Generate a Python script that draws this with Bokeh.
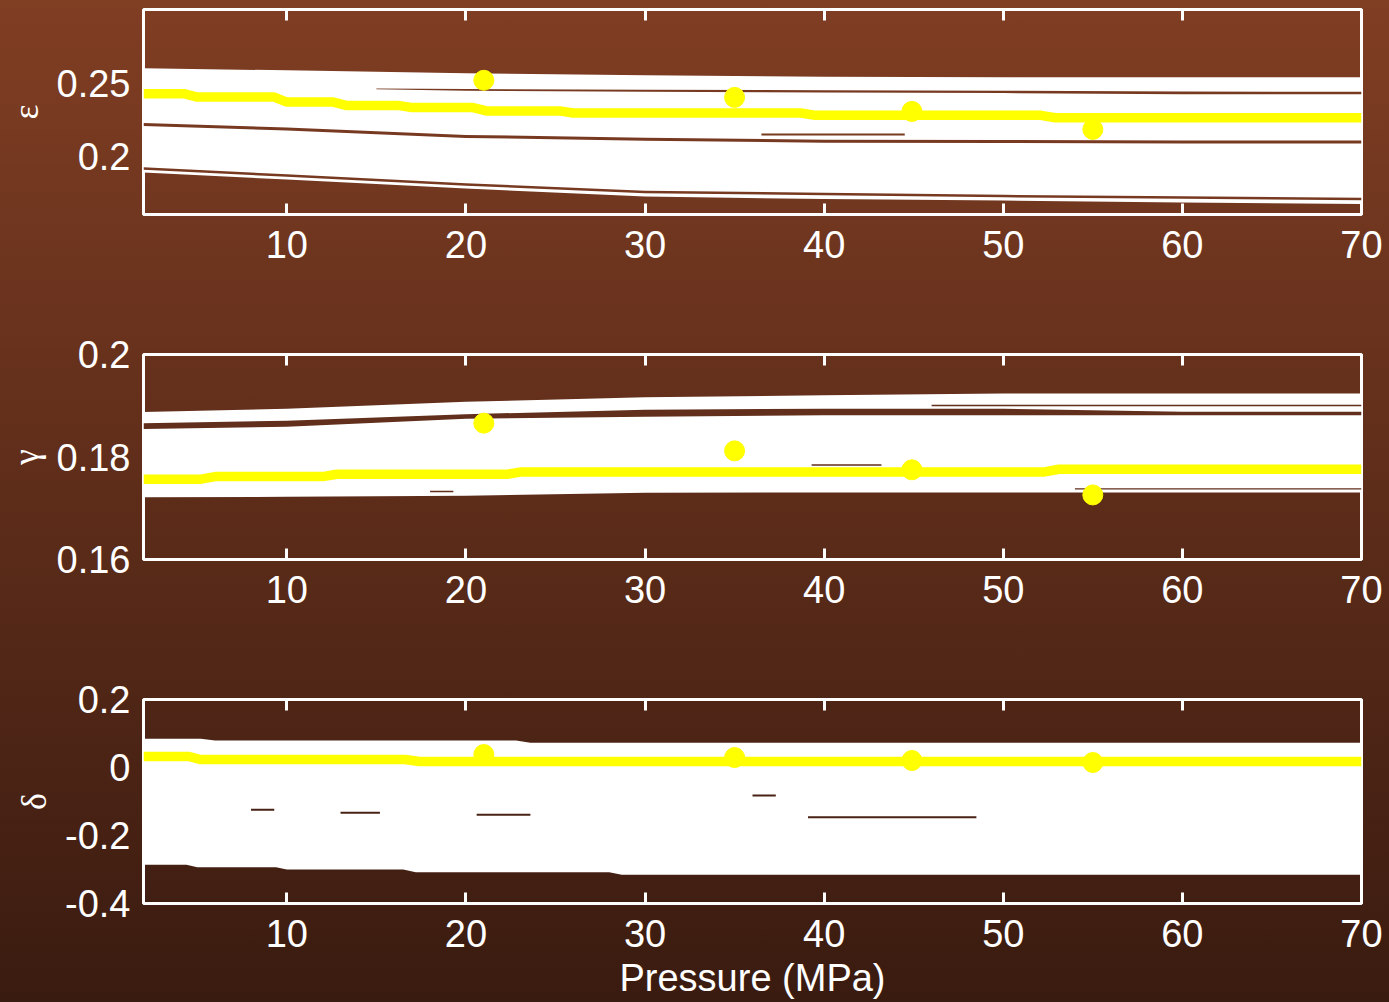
import numpy as np
from bokeh.plotting import figure
from bokeh.models import (LinearAxis, FixedTicker, Range1d, GlobalInlineStyleSheet,
                          CustomLabelingPolicy)
from bokeh.layouts import column
from bokeh.embed import file_html
from bokeh.resources import INLINE

# ---------------- data ----------------
x_ticks = [10, 20, 30, 40, 50, 60, 70]
grid_p = [2, 10, 20, 30, 40, 50, 60, 70]

# measured points (yellow dots)
meas_p = [21.0, 35.0, 44.9, 55.0]
eps_meas = [0.2521, 0.2404, 0.2308, 0.2185]
gam_meas = [0.1866, 0.1812, 0.1775, 0.1726]
del_meas = [0.0382, 0.0294, 0.0206, 0.0147]

# best-fit model (yellow line)
eps_fit_p = [2, 4.25, 5.0, 9.3, 10.0, 12.6, 13.3, 16.2, 17.0, 20.4, 21.2, 25.3, 26.0, 38.7, 39.5, 52.1, 52.9, 70]
eps_fit = [0.2429, 0.2429, 0.2406, 0.2406, 0.2372, 0.2372, 0.2349, 0.2349, 0.2334, 0.2334,
           0.2310, 0.2310, 0.2297, 0.2297, 0.2281, 0.2281, 0.2265, 0.2265]
gam_fit_p = [2, 5.2, 6.0, 12.0, 12.8, 22.3, 23.1, 52.3, 53.1, 70]
gam_fit = [0.17567, 0.17567, 0.17618, 0.17618, 0.17664, 0.17664, 0.17709, 0.17709, 0.17761, 0.17761]
del_fit_p = [2, 4.5, 5.2, 16.6, 17.4, 70]
del_fit = [0.0324, 0.0324, 0.0235, 0.0235, 0.0176, 0.0176]

# Monte-Carlo envelope (white)
eps_env_top = [0.2603, 0.2589, 0.2569, 0.2555, 0.2545, 0.2541, 0.2541, 0.2541]
eps_env_bot = [0.18904, 0.18424, 0.17808, 0.17259, 0.17088, 0.16985, 0.16848, 0.16746]
gam_env_top = [0.18880, 0.18942, 0.19078, 0.19165, 0.19204, 0.19237, 0.19237, 0.19237]
gam_env_bot = [0.17217, 0.17223, 0.17243, 0.17301, 0.17307, 0.17307, 0.17307, 0.17307]
del_env_top_p = [2, 5.2, 6.0, 22.8, 23.6, 70]
del_env_top = [0.08441, 0.08441, 0.07941, 0.07941, 0.07265, 0.07265]
del_env_bot_p = [2, 4.4, 5.0, 9.4, 10.0, 16.5, 17.2, 28.0, 28.7, 70]
del_env_bot = [-0.28618, -0.28618, -0.29324, -0.29324, -0.30000, -0.30000, -0.30794, -0.30794, -0.31529, -0.31529]

# gaps between realisations (p, top, bottom)
eps_gaps = [
    ([15, 20, 30, 40, 50, 60, 70],
     [0.24644, 0.24610, 0.24555, 0.24534, 0.24500, 0.24438, 0.24418],
     [0.24603, 0.24500, 0.24418, 0.24370, 0.24336, 0.24260, 0.24253]),
    (grid_p,
     [0.22294, 0.21972, 0.21472, 0.21287, 0.21150, 0.21130, 0.21096, 0.21096],
     [0.22089, 0.21767, 0.21267, 0.21082, 0.20945, 0.20924, 0.20890, 0.20890]),
    (grid_p,
     [0.19263, 0.18784, 0.18167, 0.17653, 0.17516, 0.17379, 0.17277, 0.17174],
     [0.19092, 0.18612, 0.17996, 0.17482, 0.17345, 0.17208, 0.17105, 0.17003]),
    ([36.5, 44.5], [0.21575, 0.21575], [0.21438, 0.21438]),
]
gam_gaps = [
    (grid_p,
     [0.18660, 0.18709, 0.18835, 0.18922, 0.18942, 0.18942, 0.18883, 0.18883],
     [0.18544, 0.18592, 0.18748, 0.18786, 0.18816, 0.18816, 0.18816, 0.18816]),
    ([46, 70], [0.19019, 0.19019], [0.18990, 0.18990]),
    ([54, 70], [0.17392, 0.17392], [0.17365, 0.17365]),
    ([39.3, 43.2], [0.17858, 0.17858], [0.17829, 0.17829]),
    ([18.0, 19.3], [0.17340, 0.17340], [0.17311, 0.17311]),
]
del_gaps = [
    ([8.0, 9.3], [-0.12147, -0.12147], [-0.12735, -0.12735]),
    ([13.0, 15.2], [-0.13030, -0.13030], [-0.13618, -0.13618]),
    ([20.6, 23.6], [-0.13618, -0.13618], [-0.14206, -0.14206]),
    ([39.1, 48.5], [-0.14324, -0.14324], [-0.14912, -0.14912]),
    ([36.0, 37.3], [-0.07941, -0.07941], [-0.08529, -0.08529]),
]

# ---------------- style ----------------
FONT = "Liberation Sans"
WHITE = "#ffffff"
YELLOW = "#ffff00"
FS = "38px"

no_labels = CustomLabelingPolicy(code="""
    for (const i of indices) {
        indices.unset(i)
    }
    return indices
""")


def panel(height, top_b, bot_b, yr, yticks, ylabel, env, gaps, gap_color,
          fit_p, fit_v, meas_v, xlabel=None):
    p = figure(width=1389, height=height, x_range=Range1d(2, 70), y_range=Range1d(*yr),
               output_backend="svg", toolbar_location=None,
               min_border_left=143, min_border_right=28,
               min_border_top=top_b, min_border_bottom=bot_b,
               background_fill_alpha=0, border_fill_alpha=0,
               outline_line_color=WHITE, outline_line_width=3)
    p.grid.visible = False

    (ep_top, et), (ep_bot, eb) = env
    xs = sorted(set(ep_top) | set(ep_bot))
    p.varea(x=xs, y1=list(np.interp(xs, ep_bot, eb)),
            y2=list(np.interp(xs, ep_top, et)), color=WHITE)
    for gp, gt, gb in gaps:
        p.varea(x=gp, y1=gb, y2=gt, color=gap_color)

    p.line(fit_p, fit_v, line_color=YELLOW, line_width=9.5)
    p.scatter(meas_p, meas_v, size=20, fill_color=YELLOW, line_color=YELLOW)

    xa = p.xaxis[0]
    xa.ticker = FixedTicker(ticks=x_ticks)
    xa.major_tick_in = 11
    xa.major_tick_out = 0
    xa.minor_tick_line_color = None
    xa.axis_line_color = None
    xa.major_tick_line_color = WHITE
    xa.major_tick_line_width = 3
    xa.major_label_text_color = WHITE
    xa.major_label_text_font = FONT
    xa.major_label_text_font_size = FS
    xa.major_label_standoff = 16
    if xlabel:
        xa.axis_label = xlabel
        xa.axis_label_text_color = WHITE
        xa.axis_label_text_font = FONT
        xa.axis_label_text_font_size = FS
        xa.axis_label_text_font_style = "normal"
        xa.axis_label_standoff = 7

    top = LinearAxis(ticker=FixedTicker(ticks=x_ticks), major_label_policy=no_labels)
    top.major_tick_in = 11
    top.major_tick_out = 0
    top.minor_tick_line_color = None
    top.axis_line_color = None
    top.major_tick_line_color = WHITE
    top.major_tick_line_width = 3
    top.major_label_text_font_size = "0px"
    top.major_label_standoff = 0
    p.add_layout(top, "above")

    ya = p.yaxis[0]
    ya.ticker = FixedTicker(ticks=yticks)
    ya.major_tick_in = 0
    ya.major_tick_out = 0
    ya.minor_tick_line_color = None
    ya.axis_line_color = None
    ya.major_label_text_color = WHITE
    ya.major_label_text_font = FONT
    ya.major_label_text_font_size = FS
    ya.major_label_standoff = 13
    ya.axis_label = ylabel
    ya.axis_label_text_color = WHITE
    ya.axis_label_text_font = "Liberation Serif"
    ya.axis_label_text_font_size = "36px"
    ya.axis_label_text_font_style = "normal"
    ya.axis_label_standoff = 8
    return p


p1 = panel(330, 9, 116, (0.1603, 0.3005), [0.2, 0.25], "ε",
           ((grid_p, eps_env_top), (grid_p, eps_env_bot)), eps_gaps, "#773a21",
           eps_fit_p, eps_fit, eps_meas)
p2 = panel(345, 24, 116, (0.16, 0.2), [0.16, 0.18, 0.2], "γ",
           ((grid_p, gam_env_top), (grid_p, gam_env_bot)), gam_gaps, "#612f1b",
           gam_fit_p, gam_fit, gam_meas)
p3 = panel(327, 24, 99, (-0.4, 0.2), [-0.4, -0.2, 0, 0.2], "δ",
           ((del_env_top_p, del_env_top), (del_env_bot_p, del_env_bot)), del_gaps, "#472214",
           del_fit_p, del_fit, del_meas, xlabel="Pressure (MPa)")
p3.yaxis[0].major_label_overrides = {0: "0", 0.2: "0.2", -0.2: "-0.2", -0.4: "-0.4"}

page_css = GlobalInlineStyleSheet(css="""
html { background: linear-gradient(180deg, #803e23 0px, #3a1b10 1002px) no-repeat;
       background-color: #3a1b10; }
body { margin: 0; padding: 0; }
""")

layout = column(p1, p2, p3, spacing=0, stylesheets=[page_css])

open("out.html", "w").write(file_html(layout, INLINE))
